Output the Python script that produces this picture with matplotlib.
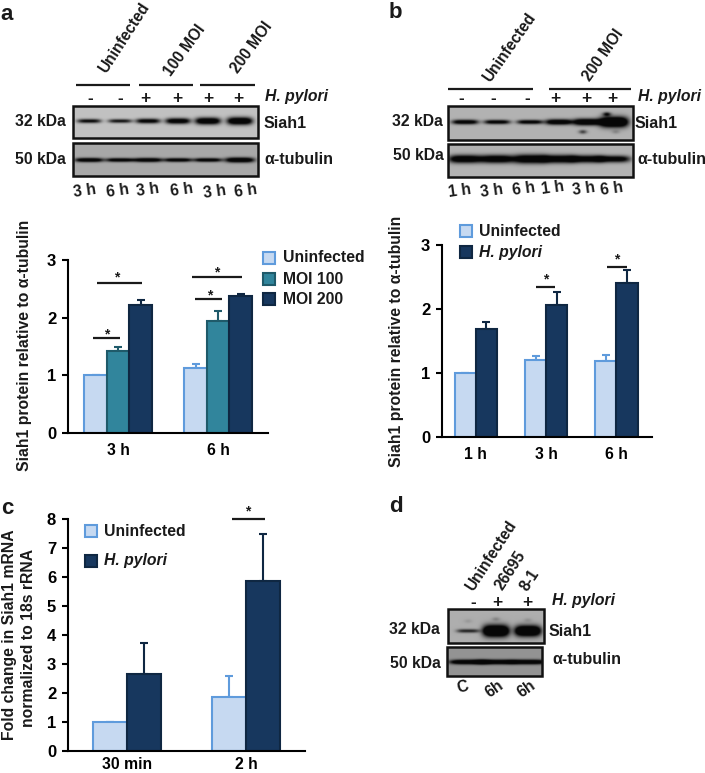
import numpy as np
import matplotlib
matplotlib.use("Agg")
import matplotlib.pyplot as plt
from matplotlib.patches import Rectangle

plt.rcParams['font.family'] = ['Liberation Sans', 'DejaVu Sans']
plt.rcParams['font.weight'] = 'bold'
plt.rcParams['font.size'] = 11

W, H = 705, 773

# ---- chart data ----
groups_a = ['3 h', '6 h']
uninfected_a = [1.0, 1.13]
moi100_a = [1.43, 1.95]
moi200_a = [2.22, 2.38]
uninfected_a_err = [0.0, 0.06]
moi100_a_err = [0.07, 0.17]
moi200_a_err = [0.08, 0.03]

groups_b = ['1 h', '3 h', '6 h']
uninfected_b = [1.0, 1.2, 1.18]
pylori_b = [1.68, 2.06, 2.41]
uninfected_b_err = [0.0, 0.06, 0.1]
pylori_b_err = [0.11, 0.2, 0.2]

groups_c = ['30 min', '2 h']
uninfected_c = [1.0, 1.87]
pylori_c = [2.67, 5.87]
uninfected_c_err = [0.0, 0.73]
pylori_c_err = [1.05, 1.6]

# band darkness per lane
siah_a = [0.75, 0.7, 0.85, 0.95, 1.05, 1.1]
tub_a = [0.85, 0.8, 0.85, 0.8, 0.8, 0.95]
siah_b = [0.85, 0.8, 0.8, 0.95, 1.05, 1.3]
tub_b = [0.95, 0.95, 1.0, 0.95, 0.9, 0.85]
siah_d = [0.55, 1.3, 1.25]
tub_d = [0.9, 0.9, 0.9]

LIGHT = ('#c6d9f1', '#5f9bdc')
TEAL = ('#31859c', '#1f5a6a')
NAVY = ('#17375e', '#0f2742')

fig = plt.figure(figsize=(W / 100, H / 100), dpi=100, facecolor='white')
over = fig.add_axes([0, 0, 1, 1], zorder=5)
over.set_xlim(0, W)
over.set_ylim(H, 0)
over.axis('off')
over.patch.set_alpha(0)


def chart(box, xlim, ylim, yticks, labels, series, width, xpad=7):
    left, right, top, bottom = box
    ax = fig.add_axes([left / W, 1 - bottom / H, (right - left) / W, (bottom - top) / H])
    pos = np.arange(len(labels))
    n = len(series)
    for i, (vals, errs, col) in enumerate(series):
        x = pos + (i - (n - 1) / 2) * width
        ax.bar(x, vals, width, color=col[0], edgecolor=col[1], linewidth=1.5, zorder=2)
        ax.errorbar(x, vals, yerr=[np.zeros(len(errs)), errs], fmt='none', ecolor=col[1],
                    elinewidth=1.5, capsize=3, capthick=1.5, zorder=1)
    ax.set_xlim(*xlim)
    ax.set_ylim(*ylim)
    ax.set_yticks(yticks)
    ax.set_xticks(pos)
    ax.set_xticklabels(labels)
    ax.tick_params(axis='x', length=0, pad=xpad, labelsize=11.3)
    ax.tick_params(axis='y', length=4.5, width=1.5, pad=4, labelsize=12)
    for s in ['top', 'right']:
        ax.spines[s].set_visible(False)
    for s in ['left', 'bottom']:
        ax.spines[s].set_linewidth(1.5)
    return ax


def blot(x0, x1, y0, y1, bg, lanes, dens, band_y, band_w, thick=1.0, spots=()):
    xs = np.linspace(x0, x1, int((x1 - x0) * 2))
    ys = np.linspace(y0, y1, int((y1 - y0) * 2))
    xx, yy = np.meshgrid(xs, ys)
    img = np.full(xx.shape, bg, dtype=float)
    for xc, d in zip(lanes, dens):
        wy = (1.5 + 5.0 * max(d - 0.5, 0) ** 2) * thick
        wx = band_w * (0.85 + 0.2 * d)
        img -= d * np.exp(-((xx - xc) / wx) ** 4) * np.exp(-((yy - band_y) / wy) ** 2)
    for sx, sy, s in spots:
        img -= s * np.exp(-((xx - sx) / 4) ** 2 - ((yy - sy) / 2) ** 2)
    over.imshow(np.clip(img, 0.03, 1), cmap='gray', vmin=0, vmax=1, aspect='auto',
                extent=(x0, x1, y1, y0), interpolation='bilinear', zorder=1)
    over.add_patch(Rectangle((x0, y0), x1 - x0, y1 - y0, fill=False, edgecolor='#111111',
                             linewidth=1.8, zorder=2))
    over.set_xlim(0, W)
    over.set_ylim(H, 0)


def label(x, y, s, ha='center', **kw):
    kw.setdefault('fontsize', 11.3)
    over.text(x, y, s, ha=ha, va='center', color='#1a1a1a', **kw)


def hline(x0, x1, y, lw=1.6):
    over.plot([x0, x1], [y, y], color='#1a1a1a', lw=lw, solid_capstyle='butt')


def sig(x0, x1, y, star_x, star_y):
    hline(x0, x1, y)
    label(star_x, star_y + 2, '*', fontsize=10)


def legend(x0, x1, ys, names, cols, text_x):
    for y, name, col in zip(ys, names, cols):
        over.add_patch(Rectangle((x0, y - (x1 - x0) / 2), x1 - x0, x1 - x0, facecolor=col[0],
                                 edgecolor=col[1], linewidth=1.5))
        style = 'italic' if name.startswith('H.') else 'normal'
        label(text_x, y, name, ha='left', style=style, fontsize=11.3)


# ---- bar charts ----
chart((68, 268, 260, 433), (-0.5, 1.5), (0, 3), [0, 1, 2, 3], groups_a,
      [(uninfected_a, uninfected_a_err, LIGHT), (moi100_a, moi100_a_err, TEAL),
       (moi200_a, moi200_a_err, NAVY)], 0.225)
chart((442, 652, 245, 437), (-0.48, 2.506), (0, 3), [0, 1, 2, 3], groups_b,
      [(uninfected_b, uninfected_b_err, LIGHT), (pylori_b, pylori_b_err, NAVY)], 0.3)
chart((68, 305, 519, 751), (-0.496, 1.496), (0, 8), list(range(9)), groups_c,
      [(uninfected_c, uninfected_c_err, LIGHT), (pylori_c, pylori_c_err, NAVY)], 0.288, xpad=4.5)

label(25, 345, 'Siah1 protein relative to α-tubulin', rotation=90)
label(397, 341, 'Siah1 protein relative to α-tubulin', rotation=90)
label(10, 635, 'Fold change in Siah1 mRNA', rotation=90)
label(29, 638, 'normalized to 18s rRNA', rotation=90)

legend(263, 275, [258, 279, 299], ['Uninfected', 'MOI 100', 'MOI 200'], [LIGHT, TEAL, NAVY], 283)
legend(460, 472, [231, 252], ['Uninfected', 'H. pylori'], [LIGHT, NAVY], 479)
legend(85, 97, [531, 561], ['Uninfected', 'H. pylori'], [LIGHT, NAVY], 104)

sig(97, 142, 283, 117, 275)
sig(93, 120, 338, 107, 332)
sig(192, 242, 277, 217, 270)
sig(195, 222, 299, 210, 293)
sig(536, 555, 287, 546, 277)
sig(607, 627, 267, 617, 257)
sig(232, 265, 519, 248, 509)

# ---- panel a blot ----
lanes_a = [89, 120, 148, 178, 208, 240]
blot(73, 258, 106, 138, 0.76, lanes_a, siah_a, 121, 12, thick=1.15)
blot(73, 258, 143, 176, 0.66, lanes_a, tub_a, 160, 14)
label(7, 14, 'a', fontsize=16)
label(124, 38, 'Uninfected', rotation=57, fontsize=11.2)
label(185, 50, '100 MOI', rotation=54, fontsize=11.2)
label(252, 47, '200 MOI', rotation=54, fontsize=11.2)
for x0, x1 in [(76, 130), (139, 193), (200, 255)]:
    hline(x0, x1, 85)
label(265, 96, 'H. pylori', ha='left', style='italic')
for x, s, y in zip([90, 120, 145, 177, 208, 238], '--++++', [98, 98, 99, 98, 98, 98]):
    label(x, y, s, fontsize=12.5)
label(40, 121, '32 kDa')
label(40, 160, '50 kDa')
label(264, 123, 'Siah1', ha='left', fontsize=11.5)
label(264, 160, 'α-tubulin', ha='left', fontsize=11.5)
for x, y, s in zip([85, 118, 148, 182, 215, 246], [191, 191, 190, 190, 192, 191],
                   ['3 h', '6 h'] * 3):
    label(x, y, s, rotation=8)

# ---- panel b blot ----
lanes_b = [465, 497, 530, 559, 587, 614]
blot(448, 633, 106, 140, 0.70, lanes_b, siah_b, 122, 13, thick=1.1,
     spots=[(607, 114, 0.6), (583, 132, 0.45), (616, 132, 0.15)])
blot(448, 633, 144, 177, 0.70, lanes_b, tub_b, 159, 16, thick=1.6)
label(395, 13, 'b', fontsize=16)
label(509, 48, 'Uninfected', rotation=55, fontsize=11.2)
label(603, 55, '200 MOI', rotation=55, fontsize=11.2)
hline(448, 533, 89)
hline(549, 631, 89)
label(638, 97, 'H. pylori', ha='left', style='italic')
for x, s in zip([461, 493, 527, 555, 586, 612], '---+++'):
    label(x, 98, s, fontsize=12.5)
label(417, 122, '32 kDa')
label(418, 155, '50 kDa')
label(635, 124, 'Siah1', ha='left', fontsize=11.5)
label(637, 160, 'α-tubulin', ha='left', fontsize=11.5)
for x, y, s in zip([460, 492, 524, 553, 584, 612], [191, 191, 189, 188, 189, 189],
                   ['1 h', '3 h', '6 h'] * 2):
    label(x, y, s, rotation=8)

# ---- panel c / d ----
label(7, 508, 'c', fontsize=16)
lanes_d = [468, 496, 528]
blot(448, 544, 609, 643, 0.68, lanes_d, siah_d, 631, 12, thick=1.25,
     spots=[(468, 621, 0.08), (496, 619, 0.15), (528, 620, 0.1)])
blot(447, 542, 647, 676, 0.58, lanes_d, tub_d, 662, 18)
label(396, 507, 'd', fontsize=16)
label(491, 556, 'Uninfected', rotation=57, fontsize=11.2)
label(510, 570, '26695', rotation=57, fontsize=11.2)
label(530, 580, '8-1', rotation=57, fontsize=11.2)
for x, s in zip([473, 497, 527], '-++'):
    label(x, 602, s, fontsize=12.5)
label(552, 601, 'H. pylori', ha='left', style='italic')
label(414, 630, '32 kDa')
label(415, 663, '50 kDa')
label(549, 631, 'Siah1', ha='left', fontsize=11.5)
label(552, 659, 'α-tubulin', ha='left', fontsize=11.5)
label(463, 687, 'C', rotation=15)
label(494, 689, '6h', rotation=35)
label(526, 689, '6h', rotation=35)

fig.savefig('out.png', dpi=100)
